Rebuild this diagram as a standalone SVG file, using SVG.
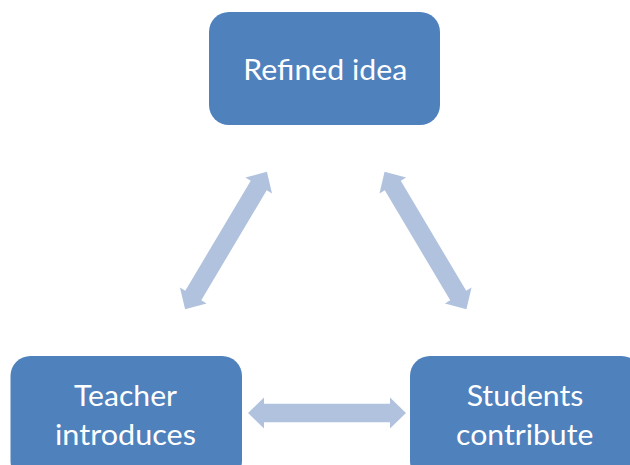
<svg xmlns="http://www.w3.org/2000/svg" width="630" height="465" viewBox="0 0 630 465">
<style>
.box{fill:#4F81BD;}
.lbl{fill:#FFFFFF;font-family:Lato,"Liberation Sans",sans-serif;font-size:28px;text-anchor:middle;}
.arr{fill:#B1C2DE;}
</style>
<defs>
<polygon id="dbl160" points="-80,0 -64,-15.5 -64,-9.3 64,-9.3 64,-15.5 80,0 64,15.5 64,9.3 -64,9.3 -64,15.5"/>
</defs>
<rect width="630" height="465" fill="#FFFFFF"/>
<g id="connectors">
<use href="#dbl160" class="arr" transform="translate(226,240.5) rotate(-59.25)"/>
<use href="#dbl160" class="arr" transform="translate(425.5,240.5) rotate(59.25)"/>
<polygon class="arr" points="248,413 264,397.5 264,403.7 390,403.7 390,397.5 406,413 390,428.5 390,422.3 264,422.3 264,428.5"/>
</g>
<g id="node-refined">
<rect class="box" x="209" y="12" width="231" height="113" rx="20" ry="20"/>
<text class="lbl" x="325.3" y="80" textLength="164" lengthAdjust="spacingAndGlyphs">Refined idea</text>
</g>
<g id="node-teacher">
<rect class="box" x="10.5" y="356" width="231.5" height="125" rx="20" ry="20"/>
<text class="lbl" x="125.5" y="406" textLength="103" lengthAdjust="spacingAndGlyphs">Teacher</text>
<text class="lbl" x="125.5" y="445" textLength="141" lengthAdjust="spacingAndGlyphs">introduces</text>
</g>
<g id="node-students">
<rect class="box" x="410" y="356" width="231.5" height="125" rx="20" ry="20"/>
<text class="lbl" x="525" y="405.7" textLength="116.7" lengthAdjust="spacingAndGlyphs">Students</text>
<text class="lbl" x="524.7" y="445" textLength="137.3" lengthAdjust="spacingAndGlyphs">contribute</text>
</g>
</svg>
